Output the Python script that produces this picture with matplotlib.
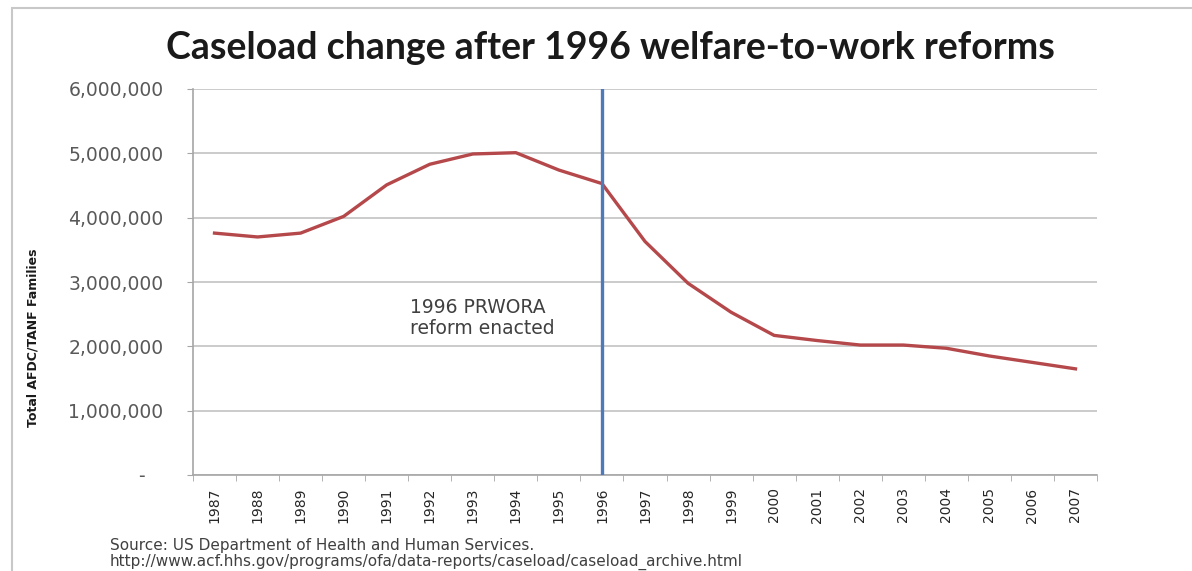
import matplotlib
matplotlib.use("Agg")
import matplotlib.pyplot as plt
from matplotlib.patches import Rectangle
from matplotlib.ticker import FuncFormatter

years = ["1987", "1988", "1989", "1990", "1991", "1992", "1993", "1994", "1995", "1996", "1997",
         "1998", "1999", "2000", "2001", "2002", "2003", "2004", "2005", "2006", "2007"]
families = [3760000, 3700000, 3760000, 4020000, 4510000, 4830000, 4990000, 5010000, 4740000, 4530000,
            3630000, 2980000, 2530000, 2170000, 2090000, 2020000, 2020000, 1970000, 1850000, 1750000, 1650000]
reform_year = "1996"
y_ticks = [0, 1000000, 2000000, 3000000, 4000000, 5000000, 6000000]

W, H = 1192, 571
fig = plt.figure(figsize=(W / 100, H / 100), dpi=100)
fig.patch.set_facecolor("white")

# outer frame of the pasted chart
fig.patches.append(Rectangle((12 / W, -0.05), 1.2, 1 - 8 / H + 0.05, transform=fig.transFigure,
                             fill=False, edgecolor="#c8c8c8", linewidth=1.5))

ax = fig.add_axes([193 / W, 1 - 475 / H, (1097 - 193) / W, (475 - 89) / H])

x = list(range(len(years)))
ax.plot(x, families, color="#b5484a", linewidth=2.4, solid_joinstyle="round", zorder=3)
ax.axvline(years.index(reform_year), color="#4f7ab8", linewidth=2.4, zorder=4)

ax.set_xlim(-0.5, len(years) - 0.5)
ax.set_ylim(0, 6000000)

grey = "#a6a6a6"
for s in ["top", "right"]:
    ax.spines[s].set_visible(False)
for s in ["left", "bottom"]:
    ax.spines[s].set_color(grey)
    ax.spines[s].set_linewidth(1.2)

ax.set_yticks(y_ticks)
ax.yaxis.set_major_formatter(FuncFormatter(lambda v, p: "-   " if v == 0 else "{:,.0f}".format(v)))
ax.yaxis.grid(True, color="#bdbdbd", linewidth=1.1)
ax.set_axisbelow(True)
ax.tick_params(axis="y", length=4.3, color=grey, pad=17, labelsize=13.5, labelcolor="#595959")

ax.set_xticks(x)
ax.set_xticklabels(years, rotation=90, fontsize=10, color="#262626")
ax.set_xticks([i - 0.5 for i in range(len(years) + 1)], minor=True)
ax.tick_params(axis="x", which="major", length=0, pad=9)
ax.tick_params(axis="x", which="minor", length=4.3, color=grey)

ax.set_ylabel("Total AFDC/TANF Families", fontsize=9, fontweight="bold", color="#1a1a1a")
ax.yaxis.set_label_coords(-153 / (1097 - 193), (475 - 338) / (475 - 89))

# annotation placed in pixel coordinates (origin bottom left)
ax.text(410, H - 318, "1996 PRWORA\nreform enacted", transform=None, fontsize=13.5, color="#404040",
        ha="left", va="center", linespacing=1.15)

fig.text(610 / W, 1 - 48 / H, "Caseload change after 1996 welfare-to-work reforms",
         ha="center", va="center", fontsize=27, fontweight="bold", family="Lato", color="#1a1a1a")

fig.text(110 / W, 1 - 554 / H,
         "Source: US Department of Health and Human Services.\n"
         "http://www.acf.hhs.gov/programs/ofa/data-reports/caseload/caseload_archive.html",
         ha="left", va="center", fontsize=11, color="#404040", linespacing=1.05)

plt.savefig("out.png", dpi=100)
